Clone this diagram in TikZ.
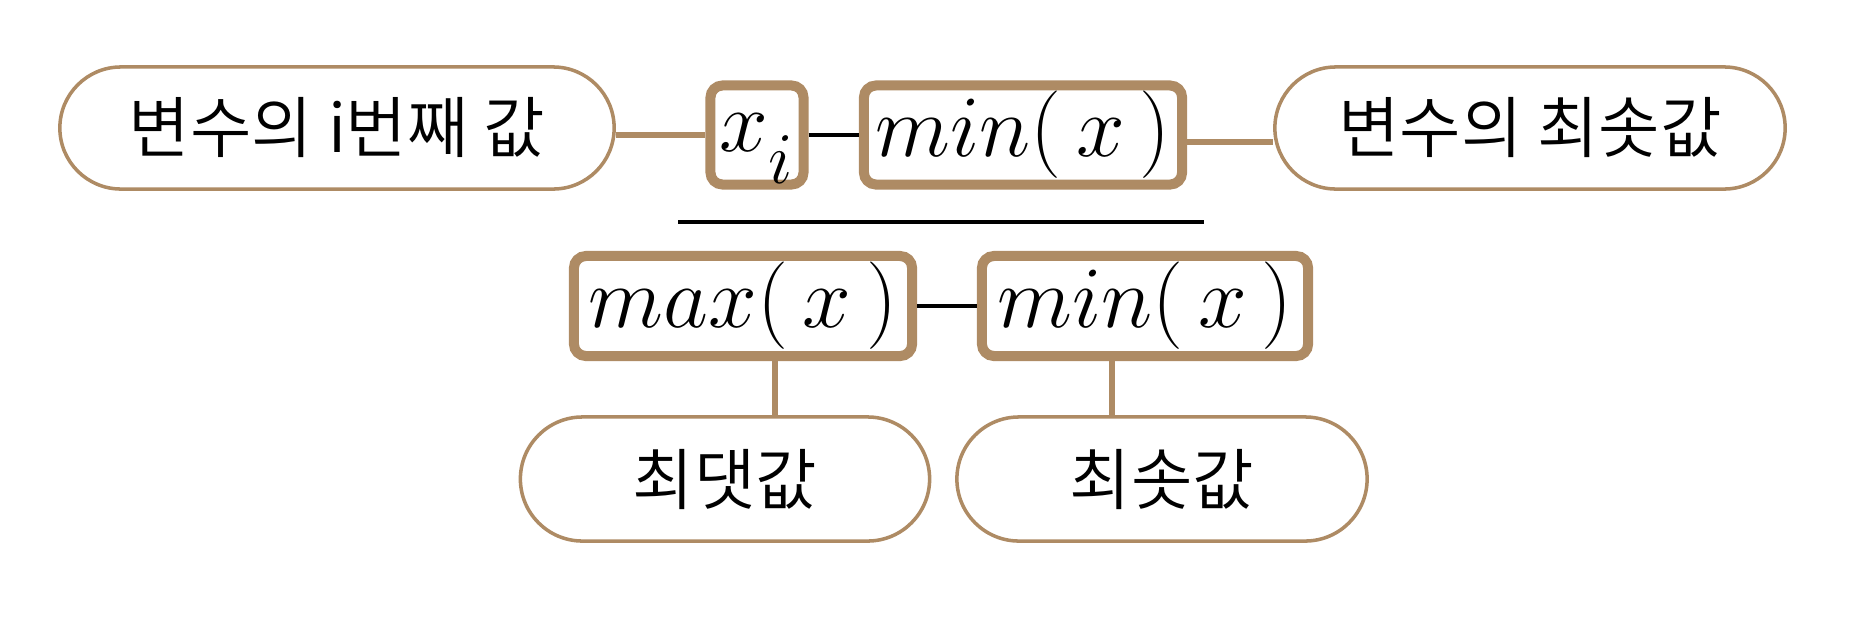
\documentclass[tikz,border=0pt]{standalone}
\usepackage{fontspec}
\usepackage{amsmath}
\newfontfamily\kofont{Noto Sans CJK KR DemiLight}
\definecolor{boxbrown}{RGB}{174,139,100}

\begin{document}
\begin{tikzpicture}[x=0.01cm, y=-0.01cm]

  \tikzstyle{note}=[rectangle, draw = boxbrown, line width = 1pt, fill = white, rounded corners = 0.61cm, minimum height = 1.22cm, inner sep = 0pt, font = \kofont\fontsize{19}{23}\selectfont]
  \tikzstyle{term}=[rectangle, draw = boxbrown, line width = 0.1cm, fill = white, rounded corners = 0.12cm, minimum height = 0.99cm, inner sep = 0pt, font = \fontsize{24.88}{30}\selectfont]
  \tikzstyle{link}=[draw = boxbrown, line width = 1.7pt]
  \tikzstyle{bar}=[draw = black, line width = 0.9pt]

  \useasboundingbox (0,0) rectangle (1855,639);

  % top row
  \node[term, minimum width = 0.93cm] (xi) at (757,135) {$\vphantom{)}x_{\raisebox{-0.22em}{$\scriptstyle i$}}$};
  \node[note, minimum width = 5.54cm] (valI) at (337,128) {변수의 i번째 값};
  \node[term, minimum width = 3.18cm] (minT) at (1023,135) {$min(\,x\,)$};
  \node[note, minimum width = 5.10cm] (valMin) at (1530,128) {변수의 최솟값};

  % fraction bar
  \coordinate (barL) at (678,222);
  \coordinate (barR) at (1204,222);

  % bottom row
  \node[term, minimum width = 3.38cm, minimum height = 1.00cm] (maxB) at (743,306) {$max(\,x\,)$};
  \node[term, minimum width = 3.26cm, minimum height = 1.00cm] (minB) at (1145,306) {$min(\,x\,)$};
  \node[note, minimum width = 4.09cm, minimum height = 1.24cm, rounded corners = 0.62cm] (maxV) at (725,479) {최댓값};
  \node[note, minimum width = 4.10cm, minimum height = 1.24cm, rounded corners = 0.62cm] (minV) at (1162,479) {최솟값};

  \draw[link] (xi.west) -- (xi.west -| valI.east);
  \draw[bar] (xi.east) -- (minT.west);
  \draw[link] ([yshift=-0.07cm]minT.east) -- ([yshift=-0.07cm]minT.east -| valMin.west);
  \draw[bar] (barL) -- (barR);
  \draw[bar] (maxB.east) -- (minB.west);
  \draw[link] ([xshift=0.32cm]maxB.south) -- ([xshift=0.32cm]maxB.south |- maxV.north);
  \draw[link] ([xshift=-0.33cm]minB.south) -- ([xshift=-0.33cm]minB.south |- minV.north);

\end{tikzpicture}
\end{document}
